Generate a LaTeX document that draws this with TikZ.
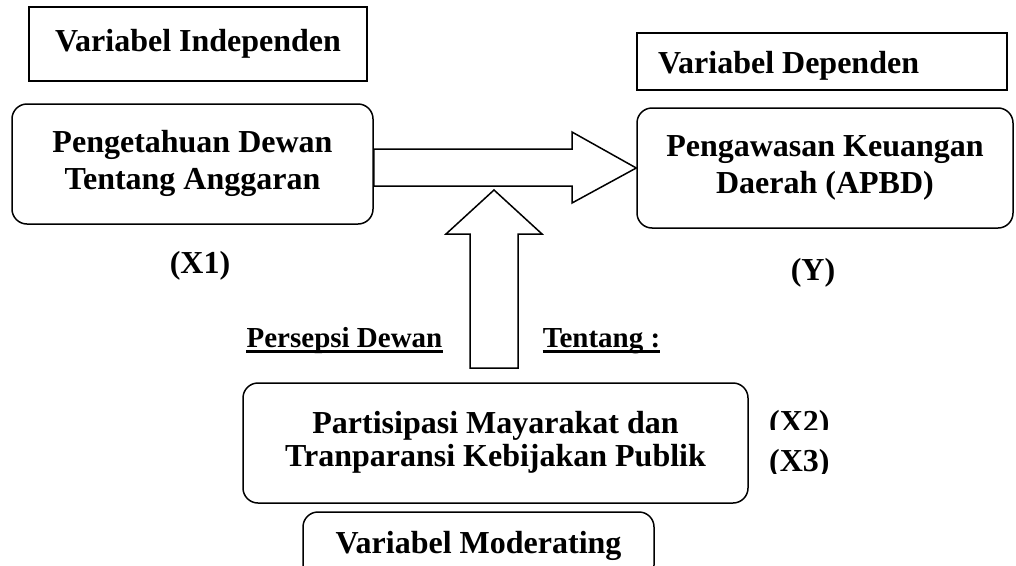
\documentclass[tikz,border=0pt]{standalone}
\usepackage{fontspec}
\setmainfont{Liberation Serif}
\begin{document}
\begin{tikzpicture}[x=1pt,y=-1pt,
  big/.style={font=\fontsize{32}{37}\selectfont\bfseries},
  hbox/.style={draw, line width=1.8pt, big, inner ysep=0pt},
  rbox/.style={draw, line width=1.5pt, rounded corners=15pt, align=center, inner sep=0pt},
  lbl/.style={big, anchor=base, inner sep=0pt},
  small/.style={font=\fontsize{29}{33}\selectfont\bfseries, anchor=base, inner sep=0pt},
  blockarrow/.style={draw, line width=1.5pt, fill=white, line join=miter}]
\clip (0,0) rectangle (1016,565);
\fill[white] (0,0) rectangle (1016,565);

% header boxes
\node[hbox, minimum width=338, minimum height=74] (hI) at (198,44) {Variabel Independen};
\node[hbox, minimum width=370, minimum height=57, inner xsep=0pt] (hD) at (822,61.5) {\makebox[328pt][l]{\raisebox{-11.5pt}[0pt][0pt]{Variabel Dependen}}};

% main boxes
\node[rbox, big, minimum width=361, minimum height=120] (pk) at (192.5,164) {\strut Pengetahuan Dewan\\\strut Tentang Anggaran};
\node[rbox, big, minimum width=376, minimum height=120] (pw) at (825,168) {\strut Pengawasan Keuangan\\\strut Daerah (APBD)};
\node[rbox, font=\fontsize{32}{33}\selectfont\bfseries, minimum width=505, minimum height=120] (pm) at (495.5,443) {\strut Partisipasi Mayarakat dan\\\strut Tranparansi Kebijakan Publik};
\node[rbox, big, minimum width=351, minimum height=68] (mod) at (478.5,546) {Variabel Moderating};

% variable labels
\node[lbl] (x1) at (200,273) {(X1)};
\node[lbl] (y) at (813,280) {(Y)};
\begin{scope}
  \clip (755,400) rectangle (860,429);
  \node[lbl, anchor=base west] (x2) at (769,432) {(X2)};
\end{scope}
\begin{scope}
  \clip (755,440) rectangle (860,473);
  \node[lbl, anchor=base west] (x3) at (769,471) {(X3)};
\end{scope}

% underlined labels
\node[small] (pd) at (344.5,347) {Persepsi Dewan};
\node[small] (tt) at (601.5,347) {Tentang :};
\draw[line width=2.2pt] ([yshift=-4.5pt]pd.base west) -- ([yshift=-4.5pt]pd.base east);
\draw[line width=2.2pt] ([yshift=-4.5pt]tt.base west) -- ([yshift=-4.5pt]tt.base east);

% block arrows
\coordinate (vb) at (494,368);
\draw[blockarrow] (pk.east |- 0,149) -- (572,149) -- (572,132) -- (pw.west)
  -- (572,203) -- (572,186) -- (pk.east |- 0,186) -- cycle;
\draw[blockarrow] (vb) -- ++(-24,0) -- (470,234) -- (446,234) -- (494,190)
  -- (542,234) -- (518,234) -- (518,368) -- cycle;
\end{tikzpicture}
\end{document}
